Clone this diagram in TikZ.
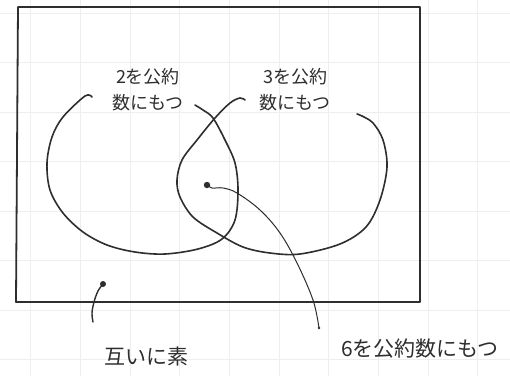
\documentclass[tikz,border=0pt]{standalone}
\usepackage{fontspec}
\newfontfamily\jp{Noto Sans CJK JP}
\definecolor{ink}{HTML}{2E2E2E}
\definecolor{gridc}{HTML}{EEEEEE}
\begin{document}
\begin{tikzpicture}[x=1pt,y=-1pt,
  gridline/.style={gridc,line width=0.8pt},
  frame/.style={ink,line width=1.8pt,line join=round},
  setline/.style={ink,line width=1.6pt,line cap=round,line join=round},
  lead/.style={ink,line width=1pt,line cap=round},
  setlabel/.style={ink,font=\jp\fontsize{18}{26}\selectfont,align=center,inner sep=0pt},
  outlabel/.style={ink,font=\jp\fontsize{21}{26}\selectfont,inner sep=0pt},
  bigdot/.style={fill=ink,draw=none}]
\useasboundingbox (0,0) rectangle (510,376);
\fill[white] (0,0) rectangle (510,376);
% graph paper
\foreach \i in {0,...,9} \draw[gridline] ({30.5+49.7*\i},0) -- ++(0,376);
\foreach \j in {0,...,7} \draw[gridline] (0,{13+49.5*\j}) -- ++(510,0);
% universe
\draw[frame] (18,7) -- (420,7) -- (420,302) -- (16,302) -- cycle;
% set with common divisor 2
\draw[setline] plot[smooth,tension=0.55] coordinates {
  (92,97) (85,96) (63,117) (52,137) (47,163) (50,190) (63,213) (83,232)
  (107,245) (135,252) (165,254) (198,249) (222,239) (235,220) (238,190)
  (235,163) (225,140) (213,118) (203,110) (195,105)};
% set with common divisor 3
\draw[setline] plot[smooth,tension=0.55] coordinates {
  (245,100) (240,98) (230,103) (215,118) (197,140) (182,160) (177,180)
  (180,197) (193,217) (217,233) (243,247) (270,253) (300,254) (340,244)
  (366,227) (380,200) (387,167) (383,140) (373,123) (362,116) (357,114)};
% labels
\node[setlabel] (n2) at (148,90) {2を公約\\数にもつ};
\node[setlabel] (n3) at (295,90) {3を公約\\数にもつ};
\node[outlabel] (n0) at (146,356) {互いに素};
\node[outlabel] (n6) at (420,349) {6を公約数にもつ};
% points and leads
\coordinate (d6) at (207,185);
\coordinate (e6) at (319,328);
\coordinate (d0) at (103,284);
\coordinate (e0) at (93,322);
\fill[bigdot] (d6) circle (3.2);
\fill[bigdot] (e6) circle (1.3);
\fill[bigdot] (d0) circle (3);
\draw[lead] plot[smooth,tension=0.6] coordinates {
  (d6) (212,188) (223,188) (237,193) (260,210) (280,233) (297,263) (313,300) (e6)};
\draw[setline,line width=1.4pt] plot[smooth,tension=0.6] coordinates {
  (d0) (98,291) (94,302) (92,313) (e0)};
\end{tikzpicture}
\end{document}
